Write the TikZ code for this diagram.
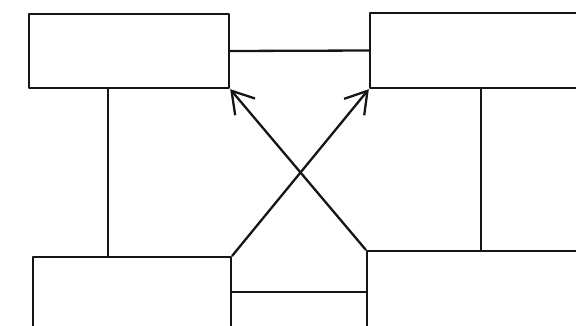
\documentclass[tikz,border=0pt]{standalone}
\usepackage{tikz}
\usetikzlibrary{arrows.meta,positioning,calc}
\definecolor{ink}{HTML}{151515}
\tikzset{
  box/.style={draw=ink,line width=1.15mm,inner sep=0pt,line join=round},
  link/.style={draw=ink,line width=1.15mm,line cap=round},
  arr/.style={link,-{Straight Barb[length=10.5mm,width=13mm,line width=1.15mm]}},
}
\begin{document}
\begin{tikzpicture}[x=0.5mm,y=-0.5mm]
  \useasboundingbox (0,0) rectangle (576,325);
  \clip (0,0) rectangle (576,325);
  \node[box,minimum width=100mm,minimum height=37mm] (tl) at (129,51) {};
  \node[box,minimum width=120mm,minimum height=37.5mm] (tr) at (490,50.5) {};
  \node[box,minimum width=99mm,minimum height=35mm] (bl) at (132,292) {};
  \node[box,minimum width=116.5mm,minimum height=41mm] (br) at (483.5,292) {};
  \draw[link] (tl.east) -- (tr.west);
  \draw[link] (bl.east) -- (br.west);
  \coordinate (lv) at ($(tl.south)+(-21,0)$);
  \coordinate (rv) at ($(tr.south)+(-9,0)$);
  \draw[link] (lv) -- (lv |- bl.north);
  \draw[link] (rv) -- (rv |- br.north);
  \draw[arr] (bl.north east) -- (tr.south west);
  \draw[arr] (br.north west) -- (tl.south east);
\end{tikzpicture}
\end{document}
